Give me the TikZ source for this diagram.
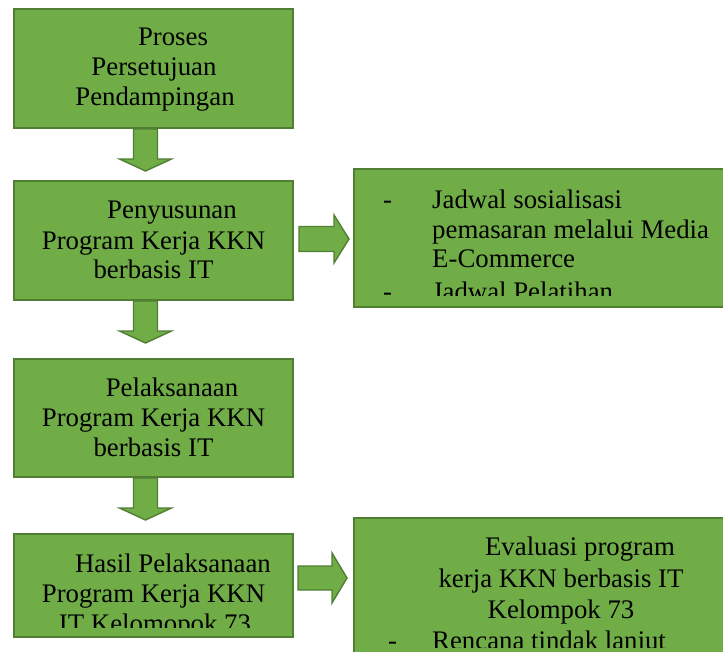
\documentclass[tikz,border=0pt]{standalone}
\usepackage{fontspec}
\setmainfont{Liberation Serif}
\usetikzlibrary{calc}
\definecolor{gfill}{HTML}{70AD47}
\definecolor{gline}{HTML}{507E32}
\tikzset{
  box/.style={draw=gline, fill=gfill, line width=2pt, inner sep=0pt},
  txt/.style={anchor=base, inner sep=0pt, font=\fontsize{26.8}{30}\selectfont},
  txtw/.style={txt, anchor=base west},
  barrow/.style={draw=gline, fill=gfill, line width=1.4pt, line join=miter}
}
\begin{document}
\begin{tikzpicture}[x=1pt, y=-1pt]
\useasboundingbox (0,0) rectangle (723,651);
\clip (0,0) rectangle (723,651);

% boxes
\node[box, minimum width=279pt, minimum height=119pt] (b1) at (153.5,68.5) {};
\node[box, minimum width=279pt, minimum height=119pt] (b2) at (153.5,240.5) {};
\node[box, minimum width=279pt, minimum height=118pt] (b3) at (153.5,418) {};
\node[box, minimum width=279pt, minimum height=103pt] (b4) at (153.5,585.5) {};
\node[box, minimum width=386pt, minimum height=138pt] (r1) at (547,238) {};
\node[box, minimum width=386pt, minimum height=162pt] (r2) at (547,599) {};

% down arrows
\coordinate (d1) at ($(b1.south)+(-8,0)$);
\coordinate (d2) at ($(b2.south)+(-8,0)$);
\coordinate (d3) at ($(b3.south)+(-8,0)$);
\foreach \c in {d1,d2,d3}{
  \draw[barrow, shift={(\c)}] (-12,0) -- (-12,30) -- (-26,30) -- (0,42) -- (26,30) -- (12,30) -- (12,0) -- cycle;
}
% right arrows
\coordinate (h1) at ($(b2.east)+(5,-1.5)$);
\coordinate (h2) at ($(b4.east)+(4,-7.5)$);
\draw[barrow, shift={(h1)}] (0,-12.5) -- (35,-12.5) -- (35,-24) -- (50,0) -- (35,24) -- (35,12.5) -- (0,12.5) -- cycle;
\draw[barrow, shift={(h2)}] (0,-12) -- (34,-12) -- (34,-25) -- (49,0) -- (34,25) -- (34,12) -- (0,12) -- cycle;

% texts box 1
\node[txt] (t11) at (173,45) {Proses};
\node[txt] (t12) at (154,75) {Persetujuan};
\node[txt] (t13) at (155,105) {Pendampingan};
% box 2
\node[txt] (t21) at (172,218) {Penyusunan};
\node[txt] (t22) at (153.5,249) {Program Kerja KKN};
\node[txt] (t23) at (153.5,278) {berbasis IT};
% box 3
\node[txt] (t31) at (172,396) {Pelaksanaan};
\node[txt] (t32) at (153.5,426) {Program Kerja KKN};
\node[txt] (t33) at (153.5,456) {berbasis IT};
% box 4
\begin{scope}
\clip (b4.north west) rectangle (293,627);
\node[txt] (t41) at (173,572) {Hasil Pelaksanaan};
\node[txt] (t42) at (153.5,602) {Program Kerja KKN};
\node[txt] (t43) at (155,632) {IT Kelomopok 73};
\end{scope}
% right box 1
\begin{scope}
\clip (r1.north west) rectangle (723,295);
\node[txtw] (s11) at (383,208) {-};
\node[txtw] (s12) at (432,208) {Jadwal sosialisasi};
\node[txtw] (s13) at (432,238) {pemasaran melalui Media};
\node[txtw] (s14) at (432,267) {E-Commerce};
\node[txtw] (s15) at (383,300) {-};
\node[txtw] (s16) at (432,300) {Jadwal Pelatihan};
\end{scope}
% right box 2
\begin{scope}
\clip (r2.north west) rectangle (723,647);
\node[txt] (s21) at (580,555) {Evaluasi program};
\node[txt] (s22) at (561,587) {kerja KKN berbasis IT};
\node[txt] (s23) at (561,618) {Kelompok 73};
\node[txtw] (s24) at (388,649) {-};
\node[txtw] (s25) at (432,649) {Rencana tindak lanjut};
\end{scope}
\end{tikzpicture}
\end{document}
